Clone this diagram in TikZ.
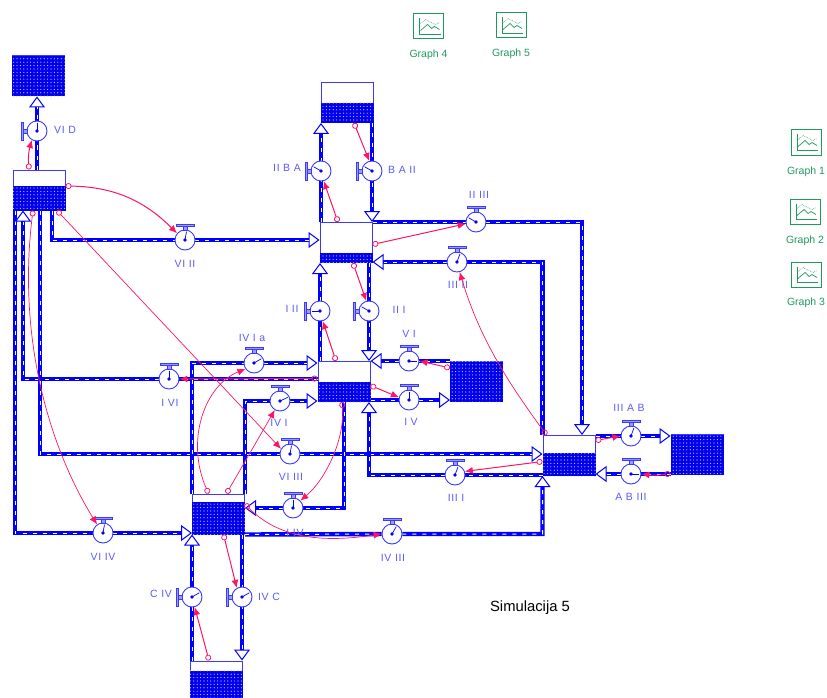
\documentclass[tikz,border=0pt]{standalone}
\usepackage{fontspec}
\setmainfont{Liberation Sans}
\newfontfamily\valvefont[LetterSpace=6]{Liberation Sans}
\usetikzlibrary{arrows.meta,patterns.meta,backgrounds}
\definecolor{simFlow}{HTML}{0000FF}
\definecolor{simLine}{HTML}{3A3AFF}
\definecolor{simLabel}{HTML}{5A5AFF}
\definecolor{simLink}{HTML}{FF1464}
\definecolor{simGraph}{HTML}{1F9A5C}
\tikzset{
  stock/.style={draw=simLine, fill=white, line width=1pt, minimum width=52pt, minimum height=40pt, inner sep=0pt},
  level/.style={fill=simFlow!92!black, postaction={pattern={Dots[distance=3.4pt, radius=0.6pt]}, pattern color=white!80!simFlow}},
  valve/.style={circle, draw=simLine, fill=white, line width=0.9pt, minimum size=20pt, inner sep=0pt},
  handle/.style={draw=simLine, fill=simLabel!60, line width=0.8pt},
  needle/.style={draw=simFlow, line width=0.7pt, shorten >=2pt},
  pipe/.style={draw=simFlow, line width=4.4pt, line join=miter,
    -{Triangle[open, fill=white, length=11pt, width=16pt, line width=1pt]},
    postaction={draw=white, line width=1pt, dash pattern=on 4pt off 6pt, arrows=-, shorten >=11pt}},
  infolink/.style={draw=simLink, line width=1pt,
    {Circle[open, length=6pt, width=6pt, line width=0.8pt]}-{Latex[length=8pt, width=7pt]}},
  thinlink/.style={infolink, line width=0.7pt},
  vlabel/.style={font=\valvefont\fontsize{10.5}{12}\selectfont, text=simLabel, inner sep=0pt},
  graphicon/.style={draw=simGraph, line width=1pt, minimum width=30pt, minimum height=25pt, inner sep=0pt},
  glabel/.style={font=\fontsize{10.5}{12}\selectfont, text=simGraph, inner sep=0pt},
}
\begin{document}
\begin{tikzpicture}[x=1pt, y=-1pt]
  \clip (0,0) rectangle (827,698);

  % Stocks
  \foreach \nm/\x/\y/\h in {stA/38/76/40, stB/39/190/25, stC/347/102.5/20, stD/346/242.5/10,
                            stE/344/381.5/20, stF/476.5/381/40, stG/569/455.5/23,
                            stH/697/454/40, stJ/218.5/514/33, stK/216/681/31} {
    \node[stock] (\nm) at (\x,\y) {};
    \path[level] (\nm.south west) rectangle ([yshift=\h pt]\nm.south east);
  }

  % Valves with the handle on top
  \foreach \nm/\x/\y/\a/\txt/\lx/\ly in {v-VI-II/185/240/80/VI II/185/264, v-II-III/476/222/150/II III/479/195,
      v-III-II/457/262/70/III II/458/285, v-IV-Ia/254/363/30/IV I a/252/338, v-V-I/409/361/0/V I/409/334,
      v-I-VI/169/379/90/I VI/170/403, v-IV-I/280/401/25/IV I/279/423, v-I-V/409/400/90/I V/411/422,
      v-VI-III/290/454/80/VI III/291/477, v-III-I/455/475/70/III I/456/498, v-III-AB/631/436/70/III A B/629/408,
      v-AB-III/631/474/0/A B III/631/497, v-I-IV/293/508/90/I IV/295/533, v-IV-III/392/534/60/IV III/393/558,
      v-VI-IV/103/533/80/VI IV/103/557} {
    \node[valve] (\nm) at (\x,\y) {};
    \draw[handle] (\x-2,\y-14) rectangle (\x+2,\y-10);
    \draw[handle] (\x-9,\y-16) rectangle (\x+9,\y-14);
    \draw[needle] (\nm.center) -- (\nm.\a);
    \fill[simFlow] (\nm.center) circle (1.8);
    \node[vlabel] (\nm-lab) at (\lx,\ly) {\txt};
  }

  % Valves with the handle on the left
  \foreach \nm/\x/\y/\a/\txt/\lx/\ly in {v-VI-D/37/131/90/VI D/65/130, v-II-BA/321/171/150/II B A/287/168,
      v-BA-II/372/171/150/B A II/402/170, v-I-II/320/311/180/I II/292/309, v-II-I/369/311/150/II I/399/310,
      v-C-IV/192/597/30/C IV/161/594, v-IV-C/242/597/30/IV C/269/597} {
    \node[valve] (\nm) at (\x,\y) {};
    \draw[handle] (\x-14,\y-2) rectangle (\x-10,\y+2);
    \draw[handle] (\x-16,\y-9) rectangle (\x-14,\y+9);
    \draw[needle] (\nm.center) -- (\nm.\a);
    \fill[simFlow] (\nm.center) circle (1.8);
    \node[vlabel] (\nm-lab) at (\lx,\ly) {\txt};
  }

  % Flows
  \begin{scope}[on background layer]
    \draw[pipe] (v-VI-D |- stB.north) -- (v-VI-D |- stA.south);
    \draw[pipe] ([xshift=13pt]stB.south) |- (v-VI-II) -- (v-VI-II -| stD.west);
    \draw[pipe] ([xshift=-24pt]stB.south) |- (v-VI-IV) -- (v-VI-IV -| stJ.west);
    \draw[pipe] (v-I-VI -| stE.west) -- (v-I-VI) -| ([xshift=-16pt]stB.south);
    \draw[pipe] ([xshift=1pt]stB.south) |- (v-VI-III) -- (v-VI-III -| stG.west);
    \draw[pipe] (v-II-BA |- stD.north) -- (v-II-BA |- stC.south);
    \draw[pipe] (v-BA-II |- stC.south) -- (v-BA-II |- stD.north);
    \draw[pipe] (v-II-III -| stD.east) -- (v-II-III) -| ([xshift=13pt]stG.north);
    \draw[pipe] (stG.north west) |- (v-III-II) -- (v-III-II -| stD.east);
    \draw[pipe] (v-I-II |- stE.north) -- (v-I-II |- stD.south);
    \draw[pipe] (v-II-I |- stD.south) -- (v-II-I |- stE.north);
    \draw[pipe] (v-V-I -| stF.west) -- (v-V-I) -- (v-V-I -| stE.east);
    \draw[pipe] (v-I-V -| stE.east) -- (v-I-V) -- (v-I-V -| stF.west);
    \draw[pipe] (v-III-I -| stG.west) -- (v-III-I) -| (v-II-I |- stE.south);
    \draw[pipe] (stJ.north west) |- (v-IV-Ia) -- (v-IV-Ia -| stE.west);
    \draw[pipe] (stJ.north east) |- (v-IV-I) -- (v-IV-I -| stE.west);
    \draw[pipe] (stE.south) |- (v-I-IV) -- (v-I-IV -| stJ.east);
    \draw[pipe] (stJ.south east) -- (v-IV-III) -| (stG.south west);
    \draw[pipe] (v-C-IV |- stK.north) -- (v-C-IV |- stJ.south);
    \draw[pipe] (v-IV-C |- stJ.south) -- (v-IV-C |- stK.north);
    \draw[pipe] (v-III-AB -| stG.east) -- (v-III-AB) -- (v-III-AB -| stH.west);
    \draw[pipe] (v-AB-III -| stH.west) -- (v-AB-III) -- (v-AB-III -| stG.east);
  \end{scope}

  % Information links
  \draw[infolink] ([xshift=-10pt]stB.north) to[bend left=10] (v-VI-D.240);
  \draw[infolink] ([yshift=4pt]stB.east) to[bend left=22] (v-VI-II.140);
  \draw[thinlink] ([xshift=18pt]stB.south) -- (v-VI-III.150);
  \draw[thinlink] ([xshift=-6pt]stB.south) .. controls (18,330) and (45,440) .. (v-VI-IV.125);
  \draw[infolink] ([xshift=7pt]stC.south) -- (v-BA-II.105);
  \draw[infolink] ([xshift=-8pt]stD.north) -- (v-II-BA.285);
  \draw[infolink] ([yshift=-2pt]stD.east) -- (v-II-III.190);
  \draw[infolink] ([xshift=7pt]stD.south) -- (v-II-I.105);
  \draw[infolink] ([xshift=-8pt]stE.north) -- (v-I-II.285);
  \draw[infolink] ([yshift=3pt]stE.west) -- (v-I-VI.east);
  \draw[thinlink] ([xshift=-10pt]stJ.north) .. controls (185,440) and (205,385) .. (v-IV-Ia.215);
  \draw[thinlink] ([xshift=8pt]stJ.north) -- (v-IV-I.240);
  \draw[thinlink] ([xshift=-2pt]stE.south) .. controls (345,440) and (325,480) .. (v-I-IV.45);
  \draw[infolink] ([yshift=-4pt]stE.east) -- (v-I-V.165);
  \draw[infolink] ([yshift=13pt]stF.west) -- (v-V-I.east);
  \draw[thinlink] ([xshift=4pt]stG.north west) .. controls (510,385) and (480,340) .. (v-III-II.285);
  \draw[infolink] ([yshift=-6pt]stG.west) -- (v-III-I.20);
  \draw[infolink] ([yshift=15pt]stG.east) -- (v-III-AB.west);
  \draw[infolink] ([yshift=1pt]stH.south west) to[bend left=8] (v-AB-III.east);
  \draw[thinlink] ([yshift=10pt]stJ.east) .. controls (285,545) and (340,540) .. (v-IV-III.west);
  \draw[infolink] ([xshift=5pt]stJ.south) -- (v-IV-C.120);
  \draw[infolink] ([xshift=-7pt]stK.north) -- (v-C-IV.285);

  % Graph pads
  \foreach \nm/\x/\y/\ly/\txt in {g4/428.5/26.5/54.5/Graph 4, g5/511/25.5/53.5/Graph 5, g1/806/142.5/171.5/Graph 1,
                                  g2/805/211.5/240.5/Graph 2, g3/806/274.5/302.5/Graph 3} {
    \node[graphicon] (\nm) at (\x,\y) {};
    \draw[simGraph, line width=0.8pt] (\x-9,\y-8) -- (\x-9,\y+8) -- (\x+12,\y+8);
    \draw[simGraph, line width=0.7pt] (\x-8,\y+4) -- (\x-1,\y-2) -- (\x+3,\y+2) -- (\x+6,\y) -- (\x+11,\y+3);
    \draw[simGraph, line width=0.6pt, densely dotted] (\x-8,\y-3) -- (\x-3,\y-7) -- (\x+3,\y-4) -- (\x+7,\y-2) -- (\x+11,\y-4);
    \node[glabel] (\nm-lab) at (\x,\ly) {\txt};
  }

  \node[font=\fontsize{14.8}{16}\selectfont, inner sep=0pt] (simtitle) at (530,608) {Simulacija 5};
\end{tikzpicture}
\end{document}
